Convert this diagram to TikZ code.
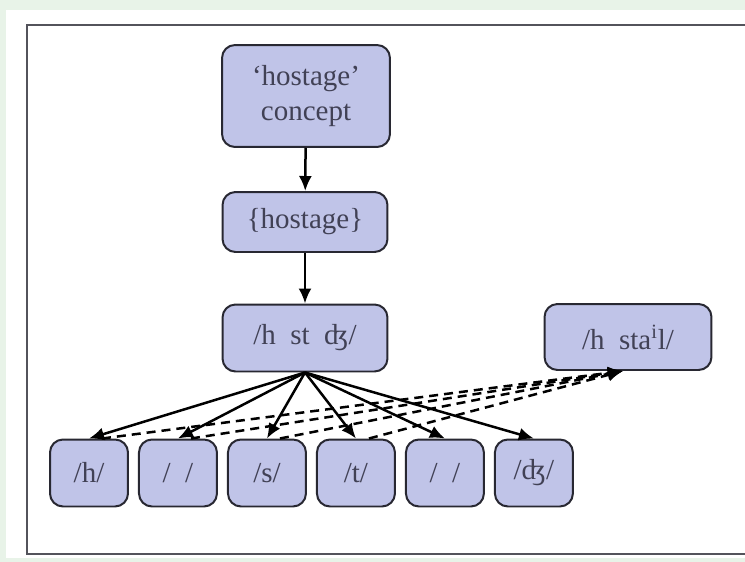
\documentclass[tikz,border=0pt]{standalone}
\usepackage{fontspec}
\setmainfont{Liberation Serif}
\usepackage{xcolor}
\usetikzlibrary{positioning}
\usetikzlibrary{arrows.meta}

\definecolor{boxfill}{RGB}{192,196,232}
\definecolor{boxline}{RGB}{40,40,50}
\definecolor{boxtext}{RGB}{65,65,85}
\definecolor{pagegreen}{RGB}{232,243,232}

\tikzset{
	unit/.style={draw=boxline,fill=boxfill,line width=0.04cm,rounded corners=0.26cm,
		text=boxtext,font=\fontsize{16.5}{19.5}\selectfont,align=center,inner sep=0pt},
	phone/.style={unit,minimum width=1.56cm,minimum height=1.34cm},
	link/.style={line width=0.05cm,-{Latex[length=0.3cm,width=0.26cm]}},
	relink/.style={link,dash pattern=on 0.18cm off 0.12cm}
}

\begin{document}
\begin{tikzpicture}[x=0.02cm,y=-0.02cm]
	
	% page and frame
	\useasboundingbox (0,0) rectangle (745,562);
	\fill[pagegreen] (0,0) rectangle (745,562);
	\fill[white] (6,10) rectangle (745,558);
	\draw[line width=0.05cm,boxline!80] (27,25) rectangle (760,554);
	
	% word level
	\node[unit,minimum width=3.36cm,minimum height=2.04cm] (concept) at (306,96) {‘hostage’\\concept};
	\node[unit,minimum width=3.3cm,minimum height=1.2cm] (lemma) at (305,222) {\{hostage\}};
	\node[unit,minimum width=3.3cm,minimum height=1.34cm] (form) at (305,338) {/h\enspace st\enspace ʤ/};
	\node[unit,minimum width=3.34cm,minimum height=1.32cm] (rival) at (628,337) {/h\enspace sta\textsuperscript{i}l/};
	
	% phoneme level
	\node[phone] (p1) at (89,473) {/h/};
	\node[phone] (p2) [right=0.18cm of p1] {/\enspace/};
	\node[phone] (p3) [right=0.18cm of p2] {/s/};
	\node[phone] (p4) [right=0.18cm of p3] {/t/};
	\node[phone] (p5) [right=0.18cm of p4] {/\enspace/};
	\node[phone] (p6) [right=0.18cm of p5] {/ʤ/};
	
	% top-down links
	\draw[link] (concept) -- (lemma);
	\draw[link] (lemma) -- (form);
	\draw[link] (form.south) -- (p1.north);
	\draw[link] (form.south) -- (p2.north);
	\draw[link] (form.south) -- (p3.north);
	\draw[link] (form.south) -- (p4.north);
	\draw[link] (form.south) -- (p5.north);
	\draw[link] (form.south) -- (p6.north);
	
	% links up to the rival form
	\draw[relink] ([xshift=0.26cm]p1.north) -- ([xshift=-0.1cm]rival.south);
	\draw[relink] ([xshift=0.26cm]p2.north) -- ([xshift=-0.1cm]rival.south);
	\draw[relink] ([xshift=0.26cm]p3.north) -- ([xshift=-0.1cm]rival.south);
	\draw[relink] ([xshift=0.26cm]p4.north) -- ([xshift=-0.1cm]rival.south);
	
\end{tikzpicture}
\end{document}
